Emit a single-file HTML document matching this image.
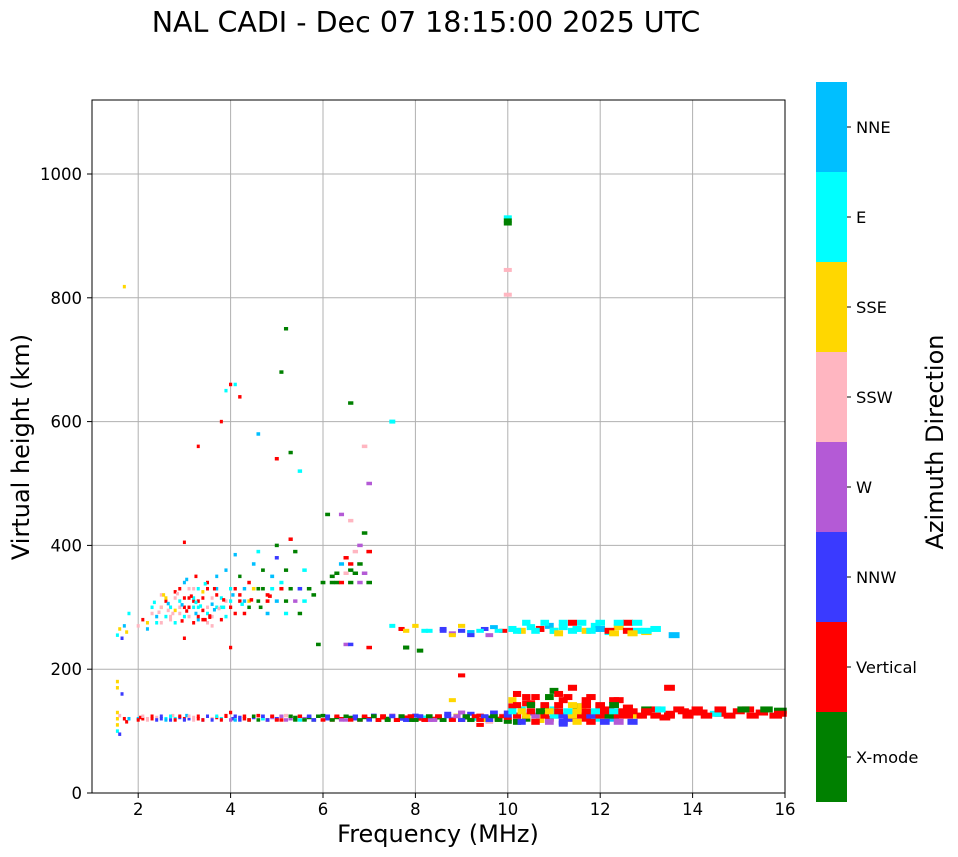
<!DOCTYPE html>
<html><head><meta charset="utf-8"><style>
body{margin:0;background:#fff;font-family:"DejaVu Sans","Liberation Sans",sans-serif}
svg{display:block}
</style></head><body>
<svg id="chart" width="958" height="857" xmlns="http://www.w3.org/2000/svg" font-family="DejaVu Sans, Liberation Sans, sans-serif">
<text x="426" y="32" font-size="28.5" text-anchor="middle">NAL CADI - Dec 07 18:15:00 2025 UTC</text>
<g id="grid"></g>
<g id="marks"></g>
<rect x="92" y="100" width="693" height="693" fill="none" stroke="#000" stroke-width="1"/>
<g id="axes"></g>
<text x="438" y="842" font-size="24" text-anchor="middle">Frequency (MHz)</text>
<text x="29" y="447" font-size="24" text-anchor="middle" transform="rotate(-90 29 447)">Virtual height (km)</text>
<g id="cbar"></g>
<text x="943" y="442" font-size="24" text-anchor="middle" transform="rotate(-90 943 442)">Azimuth Direction</text>
</svg>
<script>
const dirLabels=["X-mode","Vertical","NNW","W","SSW","SSE","E","NNE"];
const dirColors=["#008000","#ff0000","#3a3aff","#b45ad6","#ffb6c1","#ffd700","#00ffff","#00bfff"];
const xTicks=[2,4,6,8,10,12,14,16];
const yTicks=[0,200,400,600,800,1000];
const freq=[1.55,1.55,1.55,1.55,1.6,1.6,1.55,1.55,1.65,1.7,1.75,1.8,2.0,2.05,2.1,2.2,2.3,2.4,2.5,2.6,2.7,2.75,2.8,2.9,3.0,3.05,3.1,3.2,3.3,3.4,3.5,3.6,3.7,3.8,3.9,4.0,4.05,4.1,4.2,4.3,4.4,4.5,4.6,4.7,4.8,4.9,5.0,5.1,5.2,5.3,5.4,5.5,5.6,5.7,5.8,6.0,6.1,6.2,6.3,6.4,6.5,6.6,6.7,6.8,6.9,7.0,7.1,7.2,7.3,7.4,7.5,7.6,7.7,7.8,7.9,8.0,8.1,8.2,8.3,8.4,8.5,8.6,8.7,8.8,8.9,9.0,9.1,9.2,9.3,9.4,9.5,9.6,9.7,9.8,9.9,
10.0,10.0,10.1,10.1,10.2,10.2,10.3,10.4,10.4,10.5,10.6,10.7,10.8,10.9,11.0,11.0,11.1,11.2,11.3,11.4,11.4,11.5,11.6,11.7,11.8,11.9,12.0,12.1,12.2,12.3,12.4,12.5,12.6,12.8,13.0,13.2,13.5,13.8,14.2,14.6,15.0,15.5,15.9,15.9,13.5,10.5,10.8,11.1,11.3,11.6,12.0,12.3,12.6,13.0,13.4,14.0,14.5,15.2,10.2,10.7,11.2,11.7,12.2,9.4,9.0,8.8,9.6,
1.55,1.6,1.65,1.7,1.75,1.8,2.0,2.1,2.2,2.3,2.4,2.5,2.5,2.6,2.6,2.7,2.7,2.8,2.8,2.9,2.9,3.0,3.0,3.1,3.1,3.2,3.2,3.3,3.3,3.4,3.4,3.5,3.5,3.6,3.6,3.7,3.7,3.8,3.8,3.9,3.9,4.0,4.0,4.1,4.1,4.2,4.2,4.3,4.4,4.4,4.5,4.6,4.6,4.7,4.8,4.9,5.0,5.0,5.1,5.2,5.3,5.4,5.5,5.6,5.8,6.0,6.2,6.3,6.4,6.5,6.6,6.7,6.8,6.9,7.0,7.0,6.6,6.4,3.0,3.3,3.8,4.2,4.6,5.0,5.3,5.5,3.9,4.0,4.1,3.4,3.2,5.2,6.6,6.9,7.5,5.1,6.1,
7.5,7.7,8.0,8.3,8.6,8.8,9.0,9.2,9.5,9.7,9.9,10.1,10.3,10.5,10.7,10.9,11.0,11.2,11.4,11.5,11.7,11.9,12.0,12.2,12.4,12.6,12.8,13.0,13.2,13.6,10.0,10.0,10.0,6.5,6.6,7.0,7.8,8.1,9.0,4.0,3.0,5.9,1.7,
2.0,2.2,2.4,2.6,2.8,3.0,3.2,3.4,3.6,3.8,4.0,4.2,4.4,4.6,4.8,5.0,5.2,5.4,5.6,5.8,6.0,6.2,6.4,6.6,6.8,7.0,7.2,7.4,7.6,7.8,8.0,8.2,8.4,8.6,8.8,9.0,9.2,9.4,9.6,9.8,
2.1,2.3,2.5,2.7,2.9,3.1,3.3,3.5,3.7,3.9,4.1,4.3,4.5,4.7,4.9,5.1,5.3,5.5,5.7,5.9,6.1,6.3,6.5,6.7,6.9,7.1,7.3,7.5,7.7,7.9,8.1,8.3,8.5,8.7,8.9,9.1,9.3,9.5,9.7,9.9,
10.0,10.2,10.4,10.6,10.8,11.0,11.2,11.4,11.6,11.8,12.0,12.2,12.4,12.6,12.9,13.2,13.5,13.9,14.3,14.8,15.3,15.8,
10.1,10.3,10.5,10.7,10.9,11.1,11.3,11.5,11.7,11.9,12.1,12.3,12.5,12.7,13.0,13.3,13.7,14.1,14.6,15.1,15.6,
10.0,10.3,10.6,10.9,11.2,11.5,11.8,12.1,12.4,12.7,10.2,10.5,10.8,11.1,11.4,11.7,12.0,12.3,10.4,10.9,11.3,11.8,
2.3,2.5,2.7,2.9,3.1,3.3,3.5,3.7,2.6,2.8,3.0,3.2,3.4,3.6,3.8,2.4,2.7,3.0,3.3,3.6,3.9,2.9,3.1,3.3,3.5,3.7,2.2,2.5,2.8,3.2,3.5,
4.0,4.2,4.4,4.6,4.8,5.0,5.2,5.4,5.6,4.1,4.3,4.5,4.7,4.9,5.1,5.3,5.5,5.7,6.2,6.4,6.6,6.8,7.0,6.3,6.5,6.7,6.9,6.6,6.8,4.3,4.8,5.2,5.5,
7.8,8.2,8.6,9.0,9.4,9.8,10.2,10.6,11.0,11.4,11.8,12.2,12.6,13.0,10.4,10.8,11.2,11.6,12.0,12.4,12.8,8.8,9.2,9.6,11.1,12.3,12.7,
2.45,2.65,2.85,3.05,3.25,3.45,3.65,3.85,2.55,2.75,2.95,3.15,3.35,3.55,3.75,2.35,2.65,2.95,3.25,3.55,3.85,3.05,3.25,3.45,3.65,4.05,4.25,4.45,4.65,4.85,10.0,10.0];
const height=[100,110,120,130,95,125,180,170,160,120,115,120,120,122,120,120,120,122,120,120,118,125,120,122,120,125,120,122,120,118,124,120,122,120,125,130,120,118,122,120,118,122,125,120,118,122,120,118,125,120,122,118,120,122,118,125,120,118,122,120,118,122,120,118,122,120,125,118,122,120,125,118,120,122,118,125,120,122,118,120,122,118,128,120,125,118,122,128,120,125,118,122,130,120,125,
120,130,140,150,125,160,135,120,145,130,155,125,140,120,135,165,125,150,130,120,170,140,125,150,130,120,140,125,135,120,150,128,138,125,130,135,128,132,130,128,132,130,133,128,170,145,130,160,120,140,130,150,128,135,122,130,128,135,115,118,112,120,125,110,130,150,115,
255,265,250,270,260,290,270,280,265,290,275,300,320,285,310,300,280,295,325,310,290,300,340,285,315,300,330,310,280,325,295,290,340,305,270,320,350,300,280,310,360,300,330,385,290,350,320,310,340,300,370,330,390,360,320,350,400,380,340,360,410,390,330,360,320,340,350,340,370,380,360,390,400,420,390,500,440,450,405,560,600,640,580,540,550,520,650,660,660,280,310,750,630,560,600,680,450,
270,265,270,262,265,258,270,260,265,268,262,265,262,268,265,270,262,268,275,265,262,270,265,260,268,275,262,260,265,255,920,845,805,240,240,235,235,230,190,235,250,240,818,
118,118,118,118,118,118,118,118,118,118,118,118,118,118,118,118,118,118,118,118,118,118,118,118,118,118,118,118,118,118,118,118,118,118,118,118,118,118,118,118,
124,124,124,124,124,124,124,124,124,124,124,124,124,124,124,124,124,124,124,124,124,124,124,124,124,124,124,124,124,124,124,124,124,124,124,124,124,124,124,124,
125,125,125,125,125,125,125,125,125,125,125,125,125,125,125,125,125,125,125,125,125,125,
132,132,132,132,132,132,132,132,132,132,132,132,132,132,132,135,135,135,135,135,135,
115,115,115,115,115,115,115,115,115,115,142,142,142,142,142,142,142,142,155,155,155,155,
300,300,300,300,300,300,300,300,315,315,315,315,315,315,315,285,285,285,285,285,285,330,330,330,330,330,275,275,275,275,275,
310,310,310,310,310,310,310,310,310,330,330,330,330,330,330,330,330,330,340,340,340,340,340,355,355,355,355,370,370,290,290,290,290,
262,262,262,262,262,262,262,262,262,262,262,262,262,262,275,275,275,275,275,275,275,255,255,255,258,258,258,
292,306,322,294,308,280,296,312,320,290,304,318,302,286,298,308,295,278,290,284,300,345,350,338,330,320,305,312,300,318,930,925];
const dir=[6,5,5,5,2,4,5,5,2,1,1,7,7,1,1,4,1,4,2,6,2,4,6,2,1,7,2,4,1,2,6,4,1,6,1,1,2,7,2,1,0,2,1,6,1,3,2,1,4,3,0,6,3,0,0,0,2,1,0,1,3,0,2,1,0,1,2,6,1,0,3,1,2,1,0,2,1,6,3,1,0,6,2,3,5,1,0,2,6,1,5,0,2,1,4,
1,2,1,5,3,1,6,0,1,2,1,5,0,1,6,0,2,1,5,1,1,0,2,1,5,6,1,0,1,7,1,1,1,5,1,1,1,1,1,1,1,1,0,1,1,1,0,1,2,5,6,1,1,0,1,1,6,1,0,5,2,1,3,1,3,5,4,
6,5,2,7,5,6,4,1,7,4,6,5,4,6,1,7,4,5,1,6,4,1,7,4,1,6,4,1,7,5,1,6,1,7,4,1,7,6,1,4,7,1,6,7,1,0,1,7,1,0,7,0,6,0,1,7,0,2,6,0,1,0,7,6,0,0,0,0,7,1,0,4,3,0,1,3,4,3,1,1,1,1,7,1,0,6,6,1,6,1,1,0,0,4,6,0,0,
6,1,5,6,2,3,5,7,2,7,1,6,5,6,1,7,5,6,1,6,5,6,7,6,5,1,6,5,6,7,0,4,4,3,2,1,0,0,1,1,1,0,5,
1,4,2,7,1,2,4,1,2,1,3,2,1,0,2,1,3,0,0,2,1,0,3,1,0,2,1,0,1,2,0,1,3,0,1,2,0,1,2,0,
4,1,2,6,1,4,1,2,6,1,2,1,0,2,1,3,0,1,2,0,2,1,0,2,1,0,1,2,0,1,2,0,1,2,3,0,1,2,0,1,
2,1,5,3,1,6,2,5,1,2,1,0,1,1,1,1,1,1,1,1,1,1,
6,5,1,0,5,1,6,5,1,6,1,6,1,1,1,6,1,1,1,0,0,
0,2,1,3,2,5,1,2,3,2,1,0,1,1,5,1,1,0,1,0,1,1,
6,4,6,4,1,6,4,6,5,4,1,6,1,4,6,7,4,6,1,4,6,1,4,6,1,7,5,4,6,1,4,
6,1,5,0,1,7,0,3,6,1,7,5,0,6,1,0,2,0,0,1,0,3,0,0,4,0,3,1,0,1,7,6,0,
5,6,2,2,6,6,6,6,6,6,6,1,1,6,6,6,6,6,6,6,6,5,2,3,5,5,5,
4,7,4,1,6,1,7,1,5,4,7,1,6,1,4,6,4,1,7,1,6,7,1,6,1,7,6,1,0,1,6,0];
const X=f=>92+(f-1)*(693/15);
const Y=h=>793-h*0.619;
const NS="http://www.w3.org/2000/svg";
const grid=document.getElementById('grid'),axes=document.getElementById('axes'),marks=document.getElementById('marks'),cbar=document.getElementById('cbar');
xTicks.forEach(t=>{
 const l=document.createElementNS(NS,'line');l.setAttribute('x1',X(t));l.setAttribute('x2',X(t));l.setAttribute('y1',100);l.setAttribute('y2',793);l.setAttribute('stroke','#b0b0b0');
 
 
 grid.appendChild(l);
 const tk=document.createElementNS(NS,'line');tk.setAttribute('x1',X(t));tk.setAttribute('x2',X(t));tk.setAttribute('y1',793);tk.setAttribute('y2',798);tk.setAttribute('stroke','#000');
 
 
 axes.appendChild(tk);
 const tx=document.createElementNS(NS,'text');tx.setAttribute('x',X(t));tx.setAttribute('y',815);tx.setAttribute('font-size','16.5');tx.setAttribute('text-anchor','middle');tx.textContent=t;
 
 
 axes.appendChild(tx);
});
yTicks.forEach(t=>{
 const l=document.createElementNS(NS,'line');l.setAttribute('x1',92);l.setAttribute('x2',785);l.setAttribute('y1',Y(t));l.setAttribute('y2',Y(t));l.setAttribute('stroke','#b0b0b0');
 
 
 grid.appendChild(l);
 const tk=document.createElementNS(NS,'line');tk.setAttribute('x1',87);tk.setAttribute('x2',92);tk.setAttribute('y1',Y(t));tk.setAttribute('y2',Y(t));tk.setAttribute('stroke','#000');
 
 
 axes.appendChild(tk);
 const tx=document.createElementNS(NS,'text');tx.setAttribute('x',82);tx.setAttribute('y',Y(t)+6);tx.setAttribute('font-size','16.5');tx.setAttribute('text-anchor','end');tx.textContent=t;
 
 
 axes.appendChild(tx);
});
for(let i=0;i<freq.length;i++){
 const f=freq[i],h=height[i];
 const w=Math.max(3,f*0.8);
 const hh=f>10?6:(f>7?4:3.5);
 const r=document.createElementNS(NS,'rect');
 r.setAttribute('x',X(f)-w/2);r.setAttribute('y',Y(h)-hh/2);r.setAttribute('width',w);r.setAttribute('height',hh);
 r.setAttribute('fill',dirColors[dir[i]]);
 
 
 marks.appendChild(r);
}
const segH=720/dirLabels.length;
dirLabels.forEach((lab,i)=>{
 const y0=802-(i+1)*segH;
 const r=document.createElementNS(NS,'rect');r.setAttribute('x',816);r.setAttribute('y',y0);r.setAttribute('width',31);r.setAttribute('height',segH);r.setAttribute('fill',dirColors[i]);
 
 
 cbar.appendChild(r);
 const tk=document.createElementNS(NS,'line');tk.setAttribute('x1',847);tk.setAttribute('x2',851);tk.setAttribute('y1',y0+segH/2);tk.setAttribute('y2',y0+segH/2);tk.setAttribute('stroke','#000');
 
 
 cbar.appendChild(tk);
 const tx=document.createElementNS(NS,'text');tx.setAttribute('x',856);tx.setAttribute('y',y0+segH/2+6);tx.setAttribute('font-size','16.3');tx.textContent=lab;
 
 
 cbar.appendChild(tx);
});
</script>
</body></html>
